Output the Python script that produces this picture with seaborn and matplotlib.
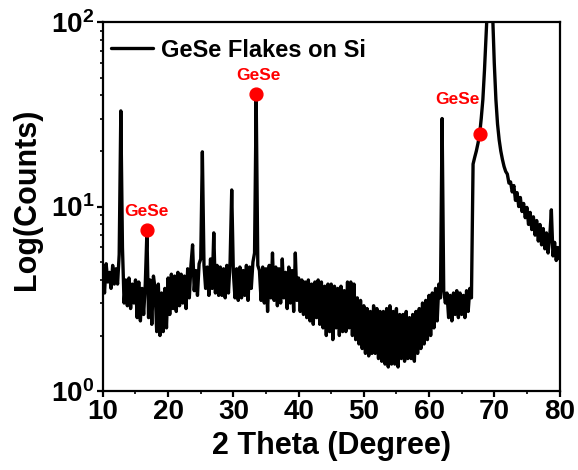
import numpy as np
import pandas as pd
import matplotlib
matplotlib.use('Agg')
import matplotlib.pyplot as plt
import seaborn as sns
from matplotlib.ticker import FixedLocator, FixedFormatter, LogLocator, MultipleLocator

# XRD scan, 0.25 degree steps from 10 to 80 (one row = one degree)
counts = [
    4.6, 3.4, 4.9, 3.9,    # 10
    4.4, 3.6, 4.8, 3.8,    # 11
    4.6, 3.8, 5.5, 33.0,   # 12
    6.0, 3.0, 4.0, 2.9,    # 13
    4.1, 2.8, 3.8, 3.0,    # 14
    4.0, 2.5, 3.9, 2.4,    # 15
    3.6, 2.6, 3.8, 7.3,    # 16
    2.5, 4.0, 2.3, 4.2,    # 17
    3.6, 2.1, 3.8, 2.0,    # 18
    3.4, 2.1, 3.6, 2.2,    # 19
    4.1, 2.6, 4.3, 2.8,    # 20
    4.2, 2.7, 4.4, 2.9,    # 21
    4.3, 3.0, 4.2, 2.8,    # 22
    4.6, 3.2, 4.8, 6.2,    # 23
    3.5, 4.5, 3.3, 4.9,    # 24
    5.2, 19.8, 4.8, 3.6,   # 25
    4.7, 3.3, 5.2, 3.6,    # 26
    7.2, 3.4, 4.8, 3.3,    # 27
    4.7, 3.3, 4.6, 3.2,    # 28
    4.8, 3.4, 5.0, 12.3,   # 29
    4.4, 3.2, 4.6, 3.1,    # 30
    4.7, 3.2, 4.5, 3.3,    # 31
    4.8, 3.1, 4.7, 3.6,    # 32
    5.0, 5.6, 39.0, 4.8,   # 33
    4.5, 3.1, 4.7, 3.0,    # 34
    4.6, 2.7, 4.8, 3.2,    # 35
    5.6, 3.1, 4.7, 2.9,    # 36
    4.6, 3.0, 5.2, 3.2,    # 37
    4.4, 2.8, 4.7, 3.0,    # 38
    4.5, 2.7, 5.6, 3.1,    # 39
    4.1, 2.7, 4.0, 2.6,    # 40
    3.9, 2.5, 4.0, 2.4,    # 41
    3.8, 2.3, 3.9, 2.5,    # 42
    4.0, 2.3, 3.9, 2.2,    # 43
    3.7, 2.0, 3.8, 2.1,    # 44
    3.8, 1.9, 3.7, 2.2,    # 45
    3.6, 2.0, 3.7, 2.1,    # 46
    3.5, 2.1, 3.9, 2.2,    # 47
    3.9, 2.0, 3.8, 1.9,    # 48
    3.2, 1.8, 3.1, 1.7,    # 49
    2.9, 1.6, 2.8, 1.55,   # 50
    2.7, 1.6, 2.9, 1.6,    # 51
    2.8, 1.5, 2.7, 1.45,   # 52
    2.7, 1.4, 2.8, 1.35,   # 53
    2.9, 1.4, 2.7, 1.4,    # 54
    2.8, 1.35, 2.6, 1.5,   # 55
    2.6, 1.45, 2.7, 1.5,   # 56
    2.5, 1.5, 2.6, 1.45,   # 57
    2.7, 1.6, 2.8, 1.7,    # 58
    3.0, 1.8, 3.1, 1.9,    # 59
    3.3, 2.0, 3.4, 2.2,    # 60
    3.6, 2.4, 3.8, 3.2,    # 61
    30.0, 3.5, 3.0, 3.4,   # 62
    2.5, 3.3, 2.4, 3.4,    # 63
    2.6, 3.5, 2.5, 3.4,    # 64
    2.6, 3.3, 2.5, 3.5,    # 65
    2.7, 3.6, 3.2, 17.0,   # 66
    18.5, 20.0, 22.0, 24.5,  # 67
    30.0, 38.0, 55.0, 85.0,  # 68
    130.0, 3000.0, 2500.0, 110.0,  # 69
    60.0, 38.0, 28.0, 23.0,  # 70
    20.0, 18.0, 16.5, 15.5,  # 71
    15.0, 13.4, 13.6, 12.0,  # 72
    13.0, 10.8, 11.9, 10.0,  # 73
    11.2, 9.4, 10.4, 8.7,    # 74
    9.9, 8.0, 9.3, 7.5,      # 75
    8.8, 7.0, 8.4, 6.5,      # 76
    8.0, 6.2, 7.6, 5.9,      # 77
    7.2, 5.6, 6.8, 9.6,      # 78
    5.4, 6.4, 5.1, 6.0,      # 79
    5.2,                     # 80
]
two_theta = np.linspace(10, 80, len(counts))

# GeSe reflections marked with red dots
gese_x = [16.75, 33.45, 67.8]
gese_y = [7.5, 41.0, 24.6]
label_x = [16.75, 33.9, 64.4]
label_y = [9.4, 51.5, 38.1]

sns.set_style('ticks')
plt.rcParams['font.family'] = ['Liberation Sans', 'DejaVu Sans']
plt.rcParams['font.weight'] = 'bold'
plt.rcParams['text.color'] = 'black'
plt.rcParams['axes.labelcolor'] = 'black'
plt.rcParams['mathtext.fontset'] = 'custom'
plt.rcParams['mathtext.bf'] = 'Liberation Sans:bold'
plt.rcParams['mathtext.rm'] = 'Liberation Sans:bold'

df = pd.DataFrame({'2theta': two_theta, 'counts': counts})

fig = plt.figure(figsize=(5.78, 4.70), dpi=100)
ax = fig.add_axes([0.178, 0.168, 0.790, 0.785])

sns.lineplot(data=df, x='2theta', y='counts', color='black', lw=2.4, ax=ax,
             label='GeSe Flakes on Si')
ax.scatter(gese_x, gese_y, s=85, color='red', zorder=3)
for x, y in zip(label_x, label_y):
    ax.text(x, y, 'GeSe', color='red', fontsize=12.5, fontweight='bold',
            ha='center', va='center')

ax.set_yscale('log')
ax.set_xlim(10, 80)
ax.set_ylim(1, 100)

ax.xaxis.set_major_locator(MultipleLocator(10))
ax.xaxis.set_minor_locator(MultipleLocator(5))
ax.yaxis.set_major_locator(FixedLocator([1, 10, 100]))
ax.yaxis.set_major_formatter(FixedFormatter([r'$\mathbf{10^{0}}$', r'$\mathbf{10^{1}}$', r'$\mathbf{10^{2}}$']))
ax.yaxis.set_minor_locator(LogLocator(base=10, subs=np.arange(2, 10)))

for s in ax.spines.values():
    s.set_linewidth(1.6)
    s.set_color('black')
ax.tick_params(axis='both', which='major', direction='out', length=4, width=1.6,
               labelsize=20, pad=2, colors='black')
ax.tick_params(axis='both', which='minor', direction='out', length=2.5, width=1.4)
ax.tick_params(axis='y', which='minor', labelleft=False)

ax.set_xlabel('2 Theta (Degree)', fontsize=22, fontweight='bold', labelpad=4)
ax.set_ylabel('Log(Counts)', fontsize=22, fontweight='bold')
ax.yaxis.set_label_coords(-0.133, 0.52)

leg = ax.legend(loc='upper left', bbox_to_anchor=(-0.018, 1.0), frameon=False,
                handlelength=1.75, handletextpad=0.35, borderaxespad=0.3,
                prop={'weight': 'bold', 'size': 17})
for t in leg.get_texts():
    t.set_color('black')

fig.savefig('out.png', dpi=100)
